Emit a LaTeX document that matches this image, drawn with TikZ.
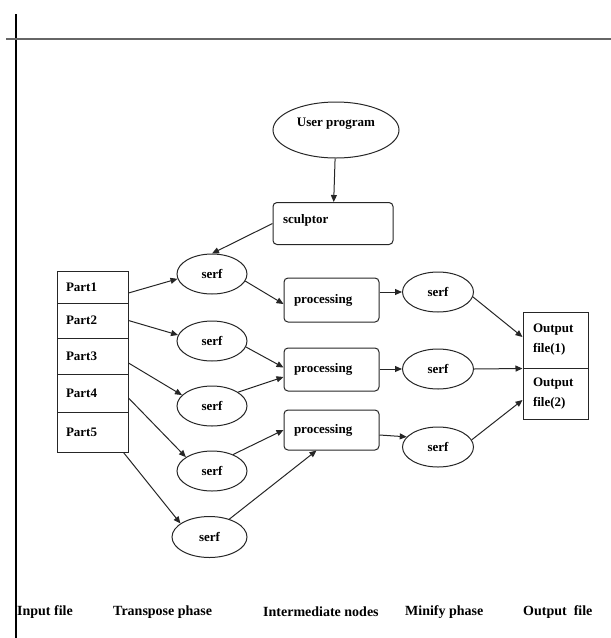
\documentclass[tikz,border=0pt]{standalone}
\usepackage{fontspec}
\setmainfont{Liberation Serif}
\usetikzlibrary{shapes.geometric,arrows.meta}
\tikzset{
  base/.style={draw=black!85, line width=1pt, font=\bfseries\fontsize{13}{15}\selectfont},
  ell/.style={base, ellipse, inner sep=0pt},
  serfnode/.style={ell, minimum width=70pt, minimum height=40pt},
  rbox/.style={base, rounded corners=4pt, align=left, inner xsep=10pt, inner ysep=0pt},
  part/.style={base, rectangle, align=left, inner xsep=9pt, inner ysep=0pt, text width=53pt, minimum width=71pt},
  outbox/.style={base, rectangle, align=left, inner xsep=10pt, inner ysep=0pt, text width=45pt, minimum width=65pt, font=\bfseries\fontsize{13}{20}\selectfont},
  arr/.style={draw=black!85, line width=1pt, -{Triangle[length=7pt,width=6pt]}},
  phase/.style={anchor=west, inner sep=0pt, font=\bfseries\fontsize{14}{16}\selectfont}
}
\begin{document}
\begin{tikzpicture}[x=1pt,y=-1pt]
\useasboundingbox (0,0) rectangle (611,638);
% frame lines
\draw[line width=2pt, black] (16,14) -- (16,638);
\draw[line width=1.8pt, black!60] (6,39) -- (611,39);

% top
\node[ell, minimum width=126pt, minimum height=56pt, text depth=16pt] (up) at (336,130) {User program};
\node[rbox, text width=100pt, minimum height=42pt, text depth=9pt] (sc) at (333,223.5) {sculptor};

% input file parts
\node[part, minimum height=32pt] (pa1) at (92.5,287) {Part1};
\node[part, minimum height=35pt] (pa2) at (92.5,320.5) {Part2};
\node[part, minimum height=36pt] (pa3) at (92.5,356) {Part3};
\node[part, minimum height=38pt] (pa4) at (92.5,393) {Part4};
\node[part, minimum height=40pt] (pa5) at (92.5,432) {Part5};

% transpose serfs
\node[serfnode] (s1) at (212,274) {serf};
\node[serfnode] (s2) at (212,341) {serf};
\node[serfnode] (s3) at (212,406) {serf};
\node[serfnode] (s4) at (212,471) {serf};
\node[serfnode, minimum width=75pt, minimum height=41pt] (s5) at (209.5,537) {serf};

% processing
\node[rbox, text width=75pt, minimum height=44pt] (p1) at (331.5,300) {processing};
\node[rbox, text width=75pt, minimum height=43pt] (p2) at (331.5,369.5) {processing};
\node[rbox, text width=75pt, minimum height=40pt] (p3) at (331.5,430) {processing};

% minify serfs
\node[serfnode, minimum width=71pt] (m1) at (438,292) {serf};
\node[serfnode, minimum width=71pt] (m2) at (438,369) {serf};
\node[serfnode, minimum width=71pt] (m3) at (438,447) {serf};

% output file
\node[outbox, minimum height=56pt] (o1) at (555.5,340) {Output\\file(1)};
\node[outbox, minimum height=51pt] (o2) at (555.5,393.5) {Output\\file(2)};

% connectors
\draw[arr] (up) -- (sc);
\draw[arr] (sc.west) -- (s1.north);
\draw[arr] ([yshift=-6pt]pa1.east) -- (s1.188);
\draw[arr] (pa2.east) -- (s2.170);
\draw[arr] ([yshift=-7pt]pa3.east) -- (s3.160);
\draw[arr] ([yshift=-5pt]pa4.east) -- (s4.152);
\draw[arr] ([xshift=-5pt]pa5.south east) -- (s5.155);

\draw[arr] (s1.-12) -- ([yshift=-4pt]p1.west);
\draw[arr] (s2.-10) -- ([yshift=2pt]p2.west);
\draw[arr] (s3.28) -- ([yshift=-7.5pt]p2.west);
\draw[arr] (s4.38) -- (p3.west);
\draw[arr] (s5.42) -- ([xshift=-15pt]p3.south);

\draw[arr] (p1.east |- m1) -- (m1);
\draw[arr] (p2.east |- m2) -- (m2);
\draw[arr] ([yshift=-5pt]p3.east) -- (m3.162);

\draw[arr] (m1.-8) -- ([yshift=3pt]o1.west);
\draw[arr] (m2.east) -- (o1.south west);
\draw[arr] (m3.12) -- ([yshift=-6.5pt]o2.west);

% phase labels
\node[phase] (l1) at (17,612) {Input file};
\node[phase] (l2) at (113,612) {Transpose phase};
\node[phase] (l3) at (263,612) {Intermediate nodes};
\node[phase] (l4) at (405,612) {Minify phase};
\node[phase] (l5) at (523,612) {Output\ \ file};
\end{tikzpicture}
\end{document}
